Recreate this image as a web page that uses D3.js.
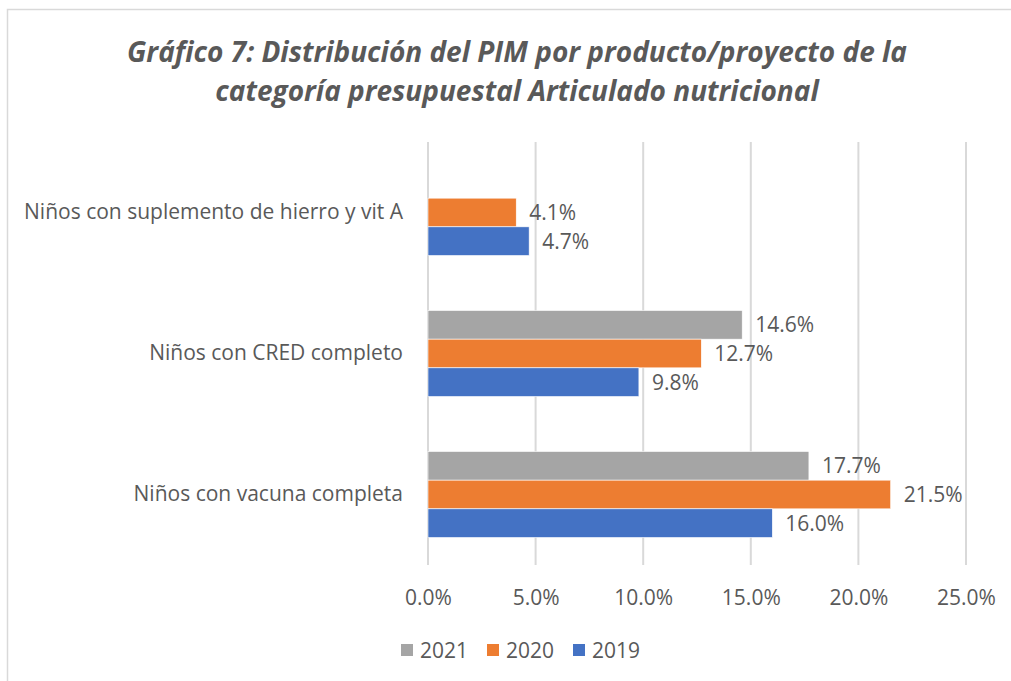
<!DOCTYPE html>
<html>
<head>
<meta charset="utf-8">
<script src="https://cdn.jsdelivr.net/npm/d3@7"></script>
<style>
  html, body { margin: 0; padding: 0; background: #fff; }
  svg { display: block; }
  text { font-family: "Open Sans", "Liberation Sans", Arial, sans-serif; fill: #595959; }
</style>
</head>
<body>
<svg id="chart" width="1011" height="681"></svg>
<script>
const titleLines = ["Gráfico 7: Distribución del PIM por producto/proyecto de la", "categoría presupuestal Articulado nutricional"];
const categories = ["Niños con suplemento de hierro y vit A", "Niños con CRED completo", "Niños con vacuna completa"];
const years = ["2021", "2020", "2019"];
const values2021 = [null, 14.6, 17.7];
const values2020 = [4.1, 12.7, 21.5];
const values2019 = [4.7, 9.8, 16.0];
const ticks = [0, 5, 10, 15, 20, 25];
const colors = ["#A5A5A5", "#ED7D31", "#4472C4"];

const seriesValues = [values2021, values2020, values2019];
const data = categories.map((c, i) => ({
  category: c,
  bars: years.map((y, j) => ({ year: y, value: seriesValues[j][i], color: colors[j] }))
}));

const FONT = "\"Open Sans\", \"Liberation Sans\", Arial, sans-serif";
const svg = d3.select("#chart");

// outer chart border
svg.append("rect").attr("x", 7.5).attr("y", 9.5).attr("width", 1100).attr("height", 800)
  .attr("fill", "none").attr("stroke", "#d9d9d9").attr("stroke-width", 1.5);

// title
const title = svg.append("text").attr("text-anchor", "middle")
  .style("font-weight", "bold").style("font-style", "italic").style("font-size", "28px");
titleLines.forEach((t, i) => {
  title.append("tspan").attr("x", 517).attr("y", 62 + i * 39).text(t);
});

const x = d3.scaleLinear().domain([0, 25]).range([428, 966]);
const y = d3.scaleBand().domain(categories).range([142, 565]).paddingInner(0.39).paddingOuter(0.195);
const yInner = d3.scaleBand().domain(years).range([0, y.bandwidth()]);

// gridlines
svg.append("g").selectAll("line").data(ticks).join("line")
  .attr("x1", d => x(d)).attr("x2", d => x(d))
  .attr("y1", 142).attr("y2", 565)
  .attr("stroke", "#d9d9d9").attr("stroke-width", 2);

// x axis tick labels
const xAxis = d3.axisBottom(x).tickValues(ticks).tickSize(0).tickPadding(0)
  .tickFormat(d => d3.format(".1f")(d) + "%");
const gx = svg.append("g").attr("transform", "translate(0,605)").call(xAxis);
gx.select(".domain").remove();
gx.selectAll("text").style("font-size", "21px").attr("fill", "#595959")
  .style("font-family", FONT).attr("dy", null).attr("y", 0);

// category labels
const yAxis = d3.axisLeft(y).tickSize(0).tickPadding(0);
const gy = svg.append("g").attr("transform", "translate(403,0)").call(yAxis);
gy.select(".domain").remove();
gy.selectAll("text").style("font-size", "21px").attr("fill", "#595959")
  .style("font-family", FONT);

// bars
const groups = svg.append("g").selectAll("g").data(data).join("g")
  .attr("transform", d => `translate(0,${y(d.category)})`);
const bars = groups.selectAll("g.bar").data(d => d.bars.filter(b => b.value != null)).join("g").attr("class", "bar");
bars.append("rect")
  .attr("x", x(0))
  .attr("y", d => yInner(d.year))
  .attr("width", d => x(d.value) - x(0))
  .attr("height", yInner.bandwidth())
  .attr("fill", d => d.color)
  .attr("stroke", "#fff").attr("stroke-width", 0.6);
bars.append("text")
  .attr("x", d => x(d.value) + 13)
  .attr("y", d => yInner(d.year) + yInner.bandwidth() / 2)
  .attr("dy", "0.36em")
  .style("font-size", "21px")
  .text(d => d3.format(".1f")(d.value) + "%");

// legend
const legendX = [401, 487, 573];
const legend = svg.append("g").selectAll("g").data(years).join("g")
  .attr("transform", (d, i) => `translate(${legendX[i]},644)`);
legend.append("rect").attr("width", 12).attr("height", 12).attr("fill", (d, i) => colors[i]);
legend.append("text").attr("x", 19).attr("y", 6).attr("dy", "0.36em").style("font-size", "21px").text(d => d);
</script>
</body>
</html>
